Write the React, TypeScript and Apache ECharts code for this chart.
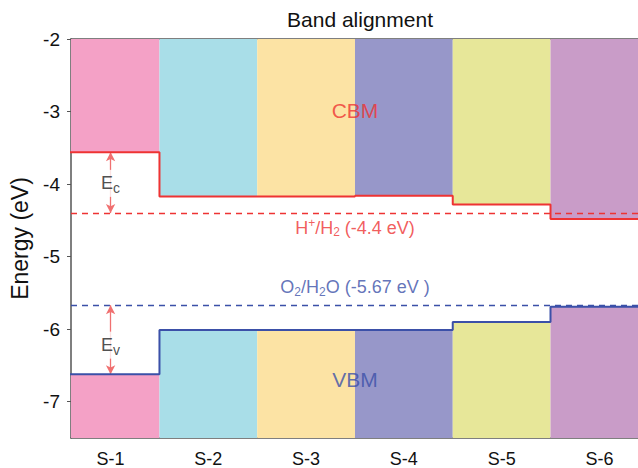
import React, { useEffect, useRef } from "react";
import * as echarts from "echarts";

const categories = ["S-1", "S-2", "S-3", "S-4", "S-5", "S-6"];
const cbm = [-3.56, -4.17, -4.17, -4.16, -4.28, -4.48];
const vbm = [-6.62, -6.01, -6.01, -6.01, -5.9, -5.69];
const bandColors = ["#F4A1C6", "#A9DEE8", "#FCE3A4", "#9797C9", "#E7E799", "#C99CC8"];
const yTicks = [-7, -6, -5, -4, -3, -2];
const yMin = -7.5;
const yMax = -2;
const hLevel = -4.4;
const oLevel = -5.67;

const RED = "#EE3333";
const BLUE = "#3B50A8";
const FONT = "Liberation Sans";

export default function App() {
  const ref = useRef<HTMLDivElement>(null);
  useEffect(() => {
    if (!ref.current) return;
    const chart = echarts.init(ref.current, null, { renderer: "svg" });
    const xs = categories.map((_, i) => i + 1);
    const bandData = categories.map((_, i) => [xs[i], cbm[i], vbm[i]]);
    const stepData = (arr: number[]) =>
      arr.flatMap((v, i) => [
        [xs[i] - 0.5, v],
        [xs[i] + 0.5, v],
      ]);

    const option: any = {
      animation: false,
      title: {
        text: "Band alignment",
        left: 355,
        textAlign: "center",
        top: 4,
        textStyle: { fontFamily: FONT, fontSize: 21, fontWeight: "normal", color: "#111" },
      },
      grid: { left: 71, right: 0, top: 39, bottom: 30 },
      xAxis: [
        {
          type: "value",
          min: 0.595,
          max: 6.395,
          splitLine: { show: false },
          axisLine: { show: true, lineStyle: { color: "#555", width: 1.5 } },
          axisTick: { show: false },
          axisLabel: {
            customValues: xs,
            formatter: (v: number) => categories[Math.round(v) - 1] ?? "",
            fontFamily: FONT,
            fontSize: 18,
            color: "#111",
            margin: 12,
          },
        },
        {
          type: "value",
          position: "top",
          min: 0.595,
          max: 6.395,
          splitLine: { show: false },
          axisLine: { show: true, lineStyle: { color: "#555", width: 1.5 } },
          axisTick: { show: false },
          axisLabel: { show: false },
        },
      ],
      yAxis: {
        type: "value",
        min: yMin,
        max: yMax,
        name: "Energy (eV)",
        nameLocation: "middle",
        nameGap: 40,
        nameTextStyle: { fontFamily: FONT, fontSize: 23, color: "#111" },
        splitLine: { show: false },
        axisLine: { show: true, lineStyle: { color: "#555", width: 1.5 } },
        axisTick: { show: true, customValues: yTicks, length: 4, inside: false, lineStyle: { color: "#555" } },
        axisLabel: {
          customValues: yTicks,
          fontFamily: FONT,
          fontSize: 19,
          color: "#111",
          margin: 11,
        },
      },
      series: [
        {
          type: "custom",
          name: "bands",
          z: 1,
          data: bandData,
          renderItem: (params: any, api: any) => {
            const i = params.dataIndex;
            const x = api.value(0);
            const c = api.value(1);
            const v = api.value(2);
            const cs = params.coordSys;
            const clipX = (px: number) => Math.max(cs.x, Math.min(cs.x + cs.width, px));
            const tl = api.coord([x - 0.5, yMax]);
            const br = api.coord([x + 0.5, c]);
            const tl2 = api.coord([x - 0.5, v]);
            const br2 = api.coord([x + 0.5, yMin]);
            const x0 = clipX(tl[0]);
            const x1 = clipX(br[0]);
            return {
              type: "group",
              children: [
                {
                  type: "rect",
                  shape: { x: x0, y: tl[1], width: x1 - x0, height: br[1] - tl[1] },
                  style: { fill: bandColors[i] },
                },
                {
                  type: "rect",
                  shape: { x: x0, y: tl2[1], width: x1 - x0, height: br2[1] - tl2[1] },
                  style: { fill: bandColors[i] },
                },
              ],
            };
          },
        },
        {
          type: "line",
          name: "CBM",
          z: 5,
          data: stepData(cbm),
          symbol: "none",
          lineStyle: { color: RED, width: 2 },
          markLine: {
            silent: true,
            symbol: "none",
            label: { show: false },
            lineStyle: { color: RED, type: [6, 5], width: 1.3 },
            data: [{ yAxis: hLevel }],
          },
        },
        {
          type: "line",
          name: "VBM",
          z: 5,
          data: stepData(vbm),
          symbol: "none",
          lineStyle: { color: BLUE, width: 2 },
          markLine: {
            silent: true,
            symbol: "none",
            label: { show: false },
            lineStyle: { color: BLUE, type: [6, 5], width: 1.3 },
            data: [{ yAxis: oLevel }],
          },
        },
        {
          type: "line",
          name: "arrows",
          z: 6,
          data: [],
          markLine: {
            silent: true,
            symbol: ["arrow", "arrow"],
            symbolSize: [7, 9],
            label: { show: false },
            lineStyle: { color: "#F07070", type: "solid", width: 1.3 },
            data: [
              [{ coord: [xs[0], cbm[0]] }, { coord: [xs[0], hLevel] }],
              [{ coord: [xs[0], oLevel] }, { coord: [xs[0], vbm[0]] }],
            ],
          },
        },
        {
          type: "scatter",
          name: "labels",
          z: 10,
          symbolSize: 0,
          silent: true,
          data: [
            {
              value: [3.5, -2.98],
              label: { show: true, position: "inside", formatter: "CBM", color: RED, fontSize: 21, fontFamily: FONT },
            },
            {
              value: [3.5, -6.7],
              label: { show: true, position: "inside", formatter: "VBM", color: BLUE, fontSize: 21, fontFamily: FONT },
            },
            {
              value: [3.5, -4.6],
              label: {
                show: true,
                position: "inside",
                formatter: "{n|H}{sup|+}{n|/H}{sub|2}{n| (-4.4 eV)}",
                rich: {
                  n: { color: RED, fontSize: 18, fontFamily: FONT },
                  sup: { color: RED, fontSize: 12, fontFamily: FONT, padding: [0, 0, 9, 0] },
                  sub: { color: RED, fontSize: 12, fontFamily: FONT, padding: [9, 0, 0, 0] },
                },
              },
            },
            {
              value: [3.5, -5.42],
              label: {
                show: true,
                position: "inside",
                formatter: "{n|O}{sub|2}{n|/H}{sub|2}{n|O (-5.67 eV )}",
                rich: {
                  n: { color: BLUE, fontSize: 18, fontFamily: FONT },
                  sub: { color: BLUE, fontSize: 12, fontFamily: FONT, padding: [9, 0, 0, 0] },
                },
              },
            },
            {
              value: [xs[0], -3.99],
              label: {
                show: true,
                position: "inside",
                formatter: "{e|E}{s|c}",
                backgroundColor: "#fff",
                padding: [2, 1, 2, 1],
                rich: {
                  e: { color: "#222", fontSize: 18, fontFamily: FONT },
                  s: { color: "#222", fontSize: 14, fontFamily: FONT, padding: [9, 0, 0, 0] },
                },
              },
            },
            {
              value: [xs[0], -6.22],
              label: {
                show: true,
                position: "inside",
                formatter: "{e|E}{s|v}",
                backgroundColor: "#fff",
                padding: [2, 1, 2, 1],
                rich: {
                  e: { color: "#222", fontSize: 18, fontFamily: FONT },
                  s: { color: "#222", fontSize: 14, fontFamily: FONT, padding: [9, 0, 0, 0] },
                },
              },
            },
          ],
        },
      ],
    };
    chart.setOption(option);
    return () => chart.dispose();
  }, []);
  return (
    <div
      ref={ref}
      style={{ position: "fixed", left: 0, top: 0, width: 638, height: 468, background: "#fff" }}
    />
  );
}
